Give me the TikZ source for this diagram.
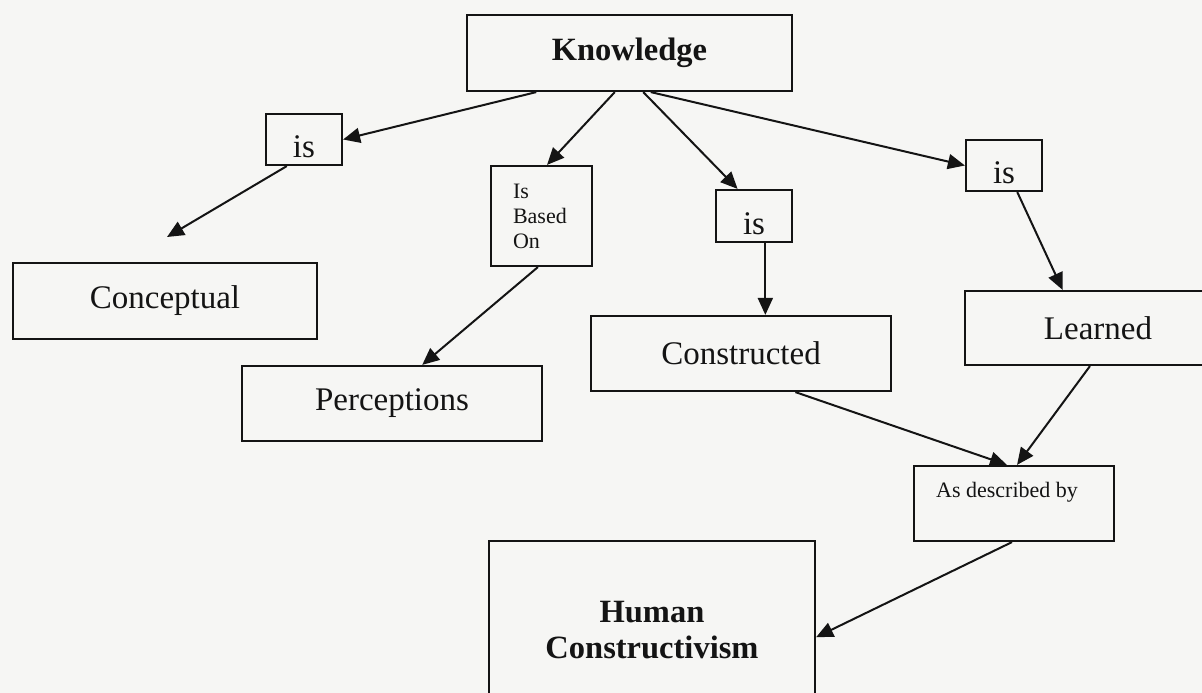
\documentclass[tikz,border=0pt]{standalone}
\usepackage{fontspec}
\setmainfont{Liberation Serif}
\usetikzlibrary{arrows.meta,calc}
\definecolor{paper}{RGB}{246,246,244}
\definecolor{ink}{RGB}{20,20,20}
\begin{document}
\begin{tikzpicture}[x=1pt,y=-1pt,
  box/.style={draw=ink,line width=2.2pt,fill=paper,inner sep=0pt,text=ink,font=\fontsize{33}{36}\selectfont},
  big/.style={font=\bfseries\fontsize{32.5}{36}\selectfont},
  small/.style={font=\fontsize{22}{25}\selectfont},
  istext/.style={text height=36pt,text depth=0pt},
  link/.style={draw=ink,line width=2pt,-{Triangle[length=17pt,width=15pt]}}]
\useasboundingbox (0,0) rectangle (1202,693);
\fill[paper] (0,0) rectangle (1202,693);
\clip (0,0) rectangle (1202,693);

\node[box,big,minimum width=325pt,minimum height=76pt] (know) at (629.5,53) {Knowledge};
\node[box,istext,minimum width=76pt,minimum height=51pt] (is1) at (304,139.5) {is};
\node[box,minimum width=304pt,minimum height=76pt] (conc) at (165,301) {Conceptual};
\node[box,small,minimum width=101pt,minimum height=100pt,text width=57pt,align=left] (ibo) at (541.5,216) {Is\\Based\\On};
\node[box,minimum width=300pt,minimum height=75pt] (perc) at (392,403.5) {Perceptions};
\node[box,istext,minimum width=76pt,minimum height=52pt] (is2) at (754,216) {is};
\node[box,minimum width=300pt,minimum height=75pt] (cons) at (741,353.5) {Constructed};
\node[box,istext,minimum width=76pt,minimum height=51pt] (is3) at (1004,165.5) {is};
\node[box,minimum width=266pt,minimum height=74pt] (lear) at (1098,328) {Learned};
\node[box,minimum width=200pt,minimum height=75pt] (adb) at (1014,503.5) {};
\node[small,text=ink] (adbtext) at (1007,492) {As described by};
\node[box,big,minimum width=326pt,minimum height=178pt,align=center] (hc) at (652,630) {Human\\Constructivism};

\coordinate (concend) at (167,237);
\coordinate (is2out) at ($(is2.south west)!0.645!(is2.south east)$);

\draw[link] ($(know.south west)!0.215!(know.south east)$) -- (is1.east);
\draw[link] ($(know.south west)!0.455!(know.south east)$) -- ($(ibo.north west)!0.554!(ibo.north east)$);
\draw[link] ($(know.south west)!0.542!(know.south east)$) -- ($(is2.north west)!0.29!(is2.north east)$);
\draw[link] ($(know.south west)!0.565!(know.south east)$) -- (is3.west);
\draw[link] ($(is1.south west)!0.28!(is1.south east)$) -- (concend);
\draw[link] ($(ibo.south west)!0.465!(ibo.south east)$) -- ($(perc.north west)!0.6!(perc.north east)$);
\draw[link] (is2out) -- (is2out |- cons.north);
\draw[link] ($(is3.south west)!0.67!(is3.south east)$) -- ($(lear.north west)!0.368!(lear.north east)$);
\draw[link] ($(cons.south west)!0.68!(cons.south east)$) -- ($(adb.north west)!0.465!(adb.north east)$);
\draw[link] ($(lear.south west)!0.47!(lear.south east)$) -- ($(adb.north west)!0.515!(adb.north east)$);
\draw[link] ($(adb.south west)!0.49!(adb.south east)$) -- ($(hc.north east)!0.54!(hc.south east)$);
\end{tikzpicture}
\end{document}
